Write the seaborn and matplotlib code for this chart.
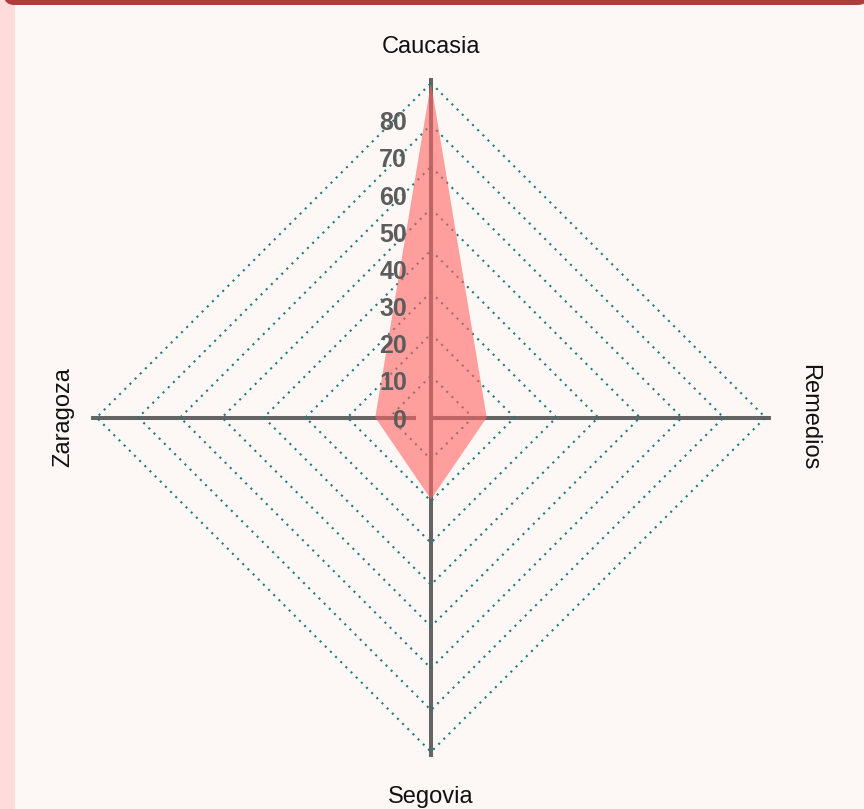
"""
雷达图: Caucasia / Remedios / Segovia / Zaragoza
"""
import numpy as np
import pandas as pd
import seaborn as sns
import matplotlib
matplotlib.use('Agg')
import matplotlib.pyplot as plt
from matplotlib.patches import Rectangle, FancyBboxPatch

# ==================== 数据 ====================
categories = ['Caucasia', 'Remedios', 'Segovia', 'Zaragoza']
values = [90, 15, 22, 15]
tick_values = [0, 10, 20, 30, 40, 50, 60, 70, 80]
ring_levels = [11.25, 22.5, 33.75, 45, 56.25, 67.5, 78.75, 90]
R_MAX = 91.5

# ==================== 样式 ====================
BG_PANEL = '#FDF7F6'
BG_STRIP = '#FFDCDC'
BAR_COLOR = '#B03C3C'
AXIS_COLOR = '#646464'
RING_COLOR = '#1F7A7A'
FILL_COLOR = '#FF6464'
TICK_COLOR = '#5C5C5C'

sns.set_theme(style='white')
plt.rcParams['font.family'] = ['Liberation Sans', 'DejaVu Sans']

fig = plt.figure(figsize=(8.64, 8.09), dpi=100, facecolor=BG_PANEL)

# 背景装饰: 左侧粉色条 + 顶部深红条
fig.patches.append(Rectangle((0, 0), 15 / 864, 1, transform=fig.transFigure,
                             facecolor=BG_STRIP, edgecolor='none', zorder=0))
fig.patches.append(FancyBboxPatch((4 / 864, 1 - 5 / 809), 1.0, 0.03,
                                  boxstyle='round,pad=0,rounding_size=0.012',
                                  transform=fig.transFigure, facecolor=BAR_COLOR,
                                  edgecolor='none', zorder=1))

ax = fig.add_axes([0.10532, 0.06366, 0.78704, 0.84054], projection='polar')
ax.set_facecolor('none')
ax.set_theta_zero_location('N')
ax.set_theta_direction(-1)
ax.set_ylim(0, R_MAX)
ax.grid(False)
ax.set_xticks([])
ax.set_yticks([])
ax.spines['polar'].set_visible(False)

n = len(categories)
angles = np.arange(n) * 2 * np.pi / n

# 坐标轴线 (Zaragoza 轴从小半径开始)
starts = [0, 0, 0, 4]
for ang, r0 in zip(angles, starts):
    ax.plot([ang, ang], [r0, R_MAX], color=AXIS_COLOR, lw=2.9,
            solid_capstyle='butt', zorder=1)

# 点线网格 (菱形)
ring_df = pd.DataFrame({
    'theta': np.tile(np.append(angles, 2 * np.pi), len(ring_levels)),
    'r': np.repeat(ring_levels, n + 1),
    'ring': np.repeat(np.arange(len(ring_levels)), n + 1),
})
sns.lineplot(data=ring_df, x='theta', y='r', units='ring', estimator=None,
             sort=False, color=RING_COLOR, lw=1.5, linestyle=(0, (1, 2.5)),
             ax=ax, zorder=2, legend=False)
ax.set_xlabel('')
ax.set_ylabel('')

# 数据区域
ax.fill(np.append(angles, angles[0]), values + values[:1],
        color=FILL_COLOR, alpha=0.6, lw=0, zorder=3)

# 刻度标签
for v in tick_values:
    ax.annotate(str(v), xy=(0, v), xytext=(-24, -3), textcoords='offset pixels',
                ha='right', va='center', fontsize=18, fontweight='bold',
                color=TICK_COLOR, zorder=4)

# 类别标签
label_r = [99.6, 101.8, 102.2, 99]
rotations = [0, 270, 0, 90]
for ang, name, lr, rot in zip(angles, categories, label_r, rotations):
    ax.text(ang, lr, name, ha='center', va='center', rotation=rot,
            fontsize=17, color='#111111', clip_on=False)

ax.set_xlim(0, 2 * np.pi)
fig.savefig('out.png', dpi=100, facecolor=BG_PANEL)
plt.close('all')
